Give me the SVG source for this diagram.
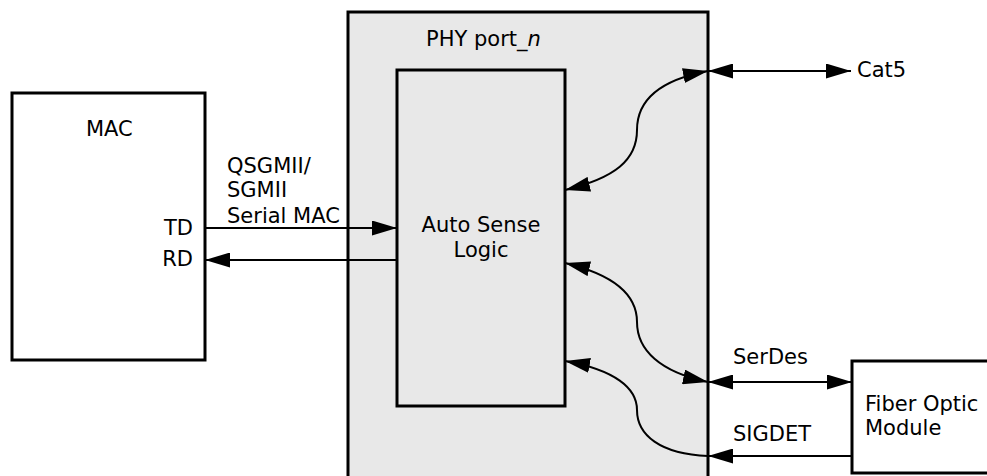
<svg xmlns="http://www.w3.org/2000/svg" width="987" height="476" viewBox="0 0 987 476">
<style>
.box{fill:#fff;stroke:#000;stroke-width:3}
.phy{fill:#e8e8e8;stroke:#000;stroke-width:3}
.inner{fill:#e8e8e8;stroke:#000;stroke-width:3}
.t{font-family:"DejaVu Sans",Verdana,sans-serif;font-size:21px;fill:#000}
.c{fill:none;stroke:#000;stroke-width:2}
</style>
<defs>
<marker id="ah" markerUnits="userSpaceOnUse" markerWidth="25" markerHeight="15" refX="25" refY="7.5" orient="auto-start-reverse" viewBox="0 0 25 15">
<path d="M0,0 L25,7.5 L0,15 z" fill="#000"/>
</marker>
</defs>
<g id="phy">
<rect class="phy" x="348" y="12" width="360" height="500"/>
<text class="t" x="426" y="46">PHY port_<tspan font-style="italic">n</tspan></text>
</g>
<g id="autosense">
<rect class="inner" x="397" y="70" width="168" height="336"/>
<text class="t" x="481" y="232" text-anchor="middle">Auto Sense</text>
<text class="t" x="481" y="257" text-anchor="middle">Logic</text>
</g>
<g id="mac">
<rect class="box" x="12" y="93" width="193" height="267"/>
<text class="t" x="86" y="136">MAC</text>
<text class="t" x="193" y="235" text-anchor="end">TD</text>
<text class="t" x="193" y="266" text-anchor="end">RD</text>
</g>
<g id="fiber">
<rect class="box" x="852" y="361" width="150" height="112"/>
<text class="t" x="865" y="411">Fiber Optic</text>
<text class="t" x="865" y="435">Module</text>
</g>
<g id="connectors">
<line class="c" x1="205" y1="228" x2="397" y2="228" marker-end="url(#ah)"/>
<line class="c" x1="397" y1="260" x2="205" y2="260" marker-end="url(#ah)"/>
<line class="c" x1="708" y1="71" x2="851" y2="71" marker-start="url(#ah)" marker-end="url(#ah)"/>
<line class="c" x1="708" y1="382" x2="852" y2="382" marker-start="url(#ah)" marker-end="url(#ah)"/>
<line class="c" x1="852" y1="456" x2="708" y2="456" marker-end="url(#ah)"/>
<path class="c" d="M565,190 C615,178 637,160 637,130 C637,100 660,80 708,71" marker-start="url(#ah)" marker-end="url(#ah)"/>
<path class="c" d="M565,263 C615,275 637,295 637,322 C637,350 660,372 708,382" marker-start="url(#ah)" marker-end="url(#ah)"/>
<path class="c" d="M565,361 C615,370 637,388 637,410 C637,435 660,454 708,456" marker-start="url(#ah)"/>
</g>
<g id="labels">
<text class="t" x="227" y="173">QSGMII/</text>
<text class="t" x="227" y="197">SGMII</text>
<text class="t" x="227" y="223">Serial MAC</text>
<text class="t" x="857" y="77">Cat5</text>
<text class="t" x="733" y="364">SerDes</text>
<text class="t" x="733" y="441">SIGDET</text>
</g>
</svg>
